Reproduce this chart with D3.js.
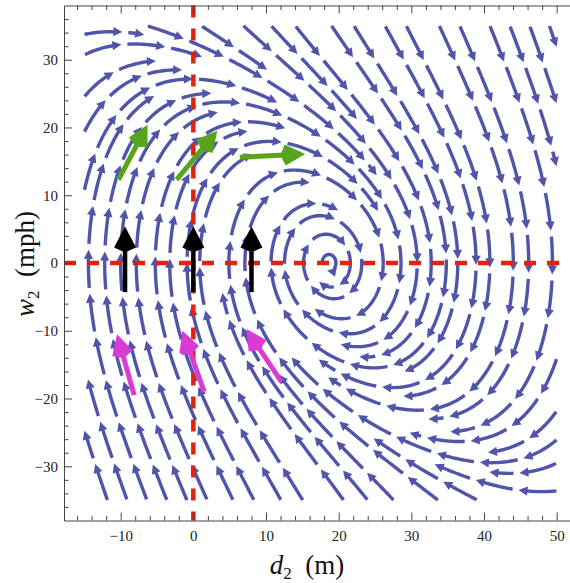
<!DOCTYPE html>
<html><head><meta charset="utf-8">
<script src="https://cdn.jsdelivr.net/npm/d3@7"></script>
<style>body{margin:0;background:#fff}</style>
</head><body>
<svg id="c" width="570" height="583"></svg>
<script>
// ---------- data ----------
const xDomain = [-17.8, 52.8];
const yDomain = [-38, 38];
const streamRangeD = [-15, 50];
const streamRangeW = [-35, 35];
const xTicks = [-10, 0, 10, 20, 30, 40, 50];
const yTicks = [-30, -20, -10, 0, 10, 20, 30];
const xMinor = d3.range(-16, 53, 2).filter(v => v % 10 !== 0);
const yMinor = d3.range(-36, 37, 2).filter(v => v % 10 !== 0);
// field: d2' = w2 ; w2' = springK*(equilibriumD - d2) - dragBeta*w2*|w2|
const equilibriumD = 18.7;
const springK = 1.75;
const dragBeta = 0.045;
// highlighted arrows [tail d, tail w, tip d, tip w]
const blackArrows = [[-9.4, -4.3, -9.4, 5.4], [0, -4.3, 0, 5.4], [8.0, -4.3, 8.0, 5.4]];
const greenArrows = [[-10.3, 12.3, -6.3, 20.4], [-2.3, 12.3, 3.3, 19.5], [6.4, 15.6, 15.4, 16.1]];
const magentaArrows = [[-8.15, -19.5, -10.5, -10.5], [1.5, -19.0, -1.5, -10.0], [12.1, -17.5, 7.3, -9.75]];
const refLinesD = [0];
const refLinesW = [0];

// ---------- setup ----------
const svg = d3.select("#c");
const x = d3.scaleLinear().domain(xDomain).range([64, 577]);
const y = d3.scaleLinear().domain(yDomain).range([520.5, 5.5]);
const sxs = x(1) - x(0), sys = y(0) - y(1);

function vel(px, py) {
  const d = x.invert(px), w = y.invert(py);
  const dd = w, dw = springK * (equilibriumD - d) - dragBeta * w * Math.abs(w);
  const vx = dd * sxs, vy = -dw * sys;
  const m = Math.hypot(vx, vy) || 1e-12;
  return [vx / m, vy / m, m];
}
const X0 = x(streamRangeD[0]), X1 = x(streamRangeD[1]);
const Y0 = y(streamRangeW[1]), Y1 = y(streamRangeW[0]);
const inside = (px, py) => px >= X0 && px <= X1 && py >= Y0 && py <= Y1;
const cxp = x(equilibriumD), cyp = y(0);

const dsep = 18.5, dtest = 9.3, h = 1;
const cell = dsep;
const grid = new Map();
const key = (i, j) => i * 100000 + j;
function addPt(g, p) {
  const k = key(Math.floor(p[0] / cell), Math.floor(p[1] / cell));
  let a = g.get(k); if (!a) { a = []; g.set(k, a); } a.push(p);
}
function near(g, px, py, r, skip) {
  const i = Math.floor(px / cell), j = Math.floor(py / cell), r2 = r * r;
  for (let di = -1; di <= 1; di++) for (let dj = -1; dj <= 1; dj++) {
    const a = g.get(key(i + di, j + dj)); if (!a) continue;
    for (const p of a) {
      const dx = p[0] - px, dy = p[1] - py;
      if (dx * dx + dy * dy < r2 && !(skip && skip(p))) return true;
    }
  }
  return false;
}
function trace(px, py, dir, local) {
  const pts = []; let s = 0;
  for (let n = 0; n < 4000; n++) {
    const v1 = vel(px, py);
    const v2 = vel(px + dir * v1[0] * h * 0.5, py + dir * v1[1] * h * 0.5);
    const nx = px + dir * v2[0] * h, ny = py + dir * v2[1] * h;
    if (!inside(nx, ny)) break;
    if (Math.hypot(nx - cxp, ny - cyp) < 4) break;
    if (near(grid, nx, ny, dtest)) break;
    s += dir * h;
    const ss = s;
    if (near(local, nx, ny, dtest * 0.95, p => Math.abs(ss - p[2]) < dsep * 2.5)) break;
    px = nx; py = ny;
    const p = [px, py, s]; pts.push(p); addPt(local, p);
  }
  return pts;
}
const lines = [], queue = [];
function makeLine(px, py) {
  if (!inside(px, py)) return;
  if (Math.hypot(px - cxp, py - cyp) < 6) return;
  if (near(grid, px, py, dsep * 0.98)) return;
  const local = new Map(); addPt(local, [px, py, 0]);
  const fwd = trace(px, py, 1, local), bwd = trace(px, py, -1, local);
  const pts = bwd.reverse().concat([[px, py, 0]], fwd);
  if (pts.length < 12) return;
  for (const p of pts) addPt(grid, p);
  lines.push(pts); queue.push(pts);
}
function processQueue() {
  while (queue.length) {
    const L = queue.shift();
    for (let i = 2; i < L.length - 2; i += 3) {
      const dx = L[i + 1][0] - L[i - 1][0], dy = L[i + 1][1] - L[i - 1][1];
      const m = Math.hypot(dx, dy) || 1;
      const nx = -dy / m, ny = dx / m;
      makeLine(L[i][0] + nx * dsep, L[i][1] + ny * dsep);
      makeLine(L[i][0] - nx * dsep, L[i][1] - ny * dsep);
    }
  }
}
makeLine(x(-10), y(0));
processQueue();
for (let gy = Y0 + 4; gy < Y1; gy += 6) for (let gx = X0 + 4; gx < X1; gx += 6) {
  makeLine(gx, gy); processQueue();
}

// ---------- draw streamlines as dashed arrows ----------
const streamColor = "#5055aa";
const gS = svg.append("g");
const dashLen = 38, gapLen = 6, headLen = 9, headHalf = 4.6;
const lineGen = d3.line();
for (const L of lines) {
  const cum = [0];
  for (let i = 1; i < L.length; i++) cum.push(cum[i - 1] + Math.hypot(L[i][0] - L[i - 1][0], L[i][1] - L[i - 1][1]));
  const total = cum[cum.length - 1];
  const at = s => {
    let i = d3.bisectRight(cum, s) - 1; i = Math.max(0, Math.min(i, L.length - 2));
    const t = (s - cum[i]) / ((cum[i + 1] - cum[i]) || 1);
    return [L[i][0] + t * (L[i + 1][0] - L[i][0]), L[i][1] + t * (L[i + 1][1] - L[i][1])];
  };
  for (let s = 0; s < total; s += dashLen + gapLen) {
    const a = s, b = Math.min(s + dashLen, total);
    if (b - a < 11) continue;
    const tip = at(b), back = at(b - 3);
    let tx = tip[0] - back[0], ty = tip[1] - back[1];
    const tm = Math.hypot(tx, ty) || 1; tx /= tm; ty /= tm;
    const pts = [];
    const end = b - headLen * 0.8;
    for (let u = a; u < end; u += 2) pts.push(at(u));
    pts.push(at(end));
    gS.append("path").attr("d", lineGen(pts)).attr("fill", "none")
      .attr("stroke", streamColor).attr("stroke-width", 3.4);
    const bx = tip[0] - tx * headLen, by = tip[1] - ty * headLen;
    gS.append("path").attr("d", `M${tip[0]},${tip[1]}L${bx - ty * headHalf},${by + tx * headHalf}L${bx + ty * headHalf},${by - tx * headHalf}Z`)
      .attr("fill", streamColor);
  }
}

// ---------- reference lines ----------
const red = "#e0230f";
svg.append("g").selectAll("line.v").data(refLinesD).join("line")
  .attr("x1", d => x(d)).attr("x2", d => x(d)).attr("y1", y.range()[1]).attr("y2", y.range()[0])
  .attr("stroke", red).attr("stroke-width", 4.5).attr("stroke-dasharray", "12,11");
svg.append("g").selectAll("line.h").data(refLinesW).join("line")
  .attr("x1", x.range()[0]).attr("x2", x.range()[1]).attr("y1", d => y(d)).attr("y2", d => y(d))
  .attr("stroke", red).attr("stroke-width", 4.5).attr("stroke-dasharray", "12,11");

// ---------- highlight arrows ----------
function bigArrows(data, color, width, hl, hw) {
  const g = svg.append("g");
  for (const a of data) {
    const x1 = x(a[0]), y1 = y(a[1]), x2 = x(a[2]), y2 = y(a[3]);
    let tx = x2 - x1, ty = y2 - y1; const m = Math.hypot(tx, ty); tx /= m; ty /= m;
    const bx = x2 - tx * hl, by = y2 - ty * hl;
    g.append("line").attr("x1", x1).attr("y1", y1).attr("x2", x2 - tx * hl * 0.6).attr("y2", y2 - ty * hl * 0.6)
      .attr("stroke", color).attr("stroke-width", width);
    g.append("path").attr("d", `M${x2},${y2}L${bx - ty * hw + tx * 5},${by + tx * hw + ty * 5}L${bx},${by}L${bx + ty * hw + tx * 5},${by - tx * hw + ty * 5}Z`)
      .attr("fill", color);
  }
}
bigArrows(blackArrows, "#000", 4.5, 26, 11);
bigArrows(greenArrows, "#58a51c", 5, 25, 10.5);
bigArrows(magentaArrows, "#d93bd3", 5, 25, 10.5);

// ---------- axes ----------
const fmt = d => d < 0 ? "\u2212" + Math.abs(d) : String(d);
const axisColor = "#444";
function styleAxis(g) {
  g.selectAll("path.domain").attr("stroke", axisColor);
  g.selectAll("line").attr("stroke", axisColor);
  g.selectAll("text").attr("font-family", "'Liberation Serif', serif").attr("font-size", 15).attr("fill", "#222");
}
const yb = y.range()[0], yt = y.range()[1], xl = x.range()[0];
svg.append("g").attr("transform", `translate(0,${yb})`)
  .call(d3.axisBottom(x).tickValues(xTicks).tickSize(-8).tickSizeOuter(0).tickPadding(0).tickFormat(fmt))
  .call(styleAxis).call(g => g.selectAll("text").attr("dy", 0).attr("y", 20.5));
svg.append("g").attr("transform", `translate(0,${yb})`)
  .call(d3.axisBottom(x).tickValues(xMinor).tickSize(-4.5).tickFormat(""))
  .call(styleAxis).call(g => g.select("path.domain").remove());
svg.append("g").attr("transform", `translate(0,${yt})`)
  .call(d3.axisTop(x).tickValues(xTicks).tickSize(-8).tickSizeOuter(0).tickFormat(""))
  .call(styleAxis);
svg.append("g").attr("transform", `translate(0,${yt})`)
  .call(d3.axisTop(x).tickValues(xMinor).tickSize(-4.5).tickFormat(""))
  .call(styleAxis).call(g => g.select("path.domain").remove());
svg.append("g").attr("transform", `translate(${xl},0)`)
  .call(d3.axisLeft(y).tickValues(yTicks).tickSize(-8).tickSizeOuter(0).tickPadding(6).tickFormat(fmt))
  .call(styleAxis);
svg.append("g").attr("transform", `translate(${xl},0)`)
  .call(d3.axisLeft(y).tickValues(yMinor).tickSize(-4.5).tickFormat(""))
  .call(styleAxis).call(g => g.select("path.domain").remove());

// ---------- axis titles ----------
const xt = svg.append("text").attr("x", 307).attr("y", 574).attr("text-anchor", "middle")
  .attr("font-family", "'Liberation Serif', serif").attr("font-size", 27).attr("fill", "#111");
xt.append("tspan").attr("font-style", "italic").text("d");
xt.append("tspan").attr("font-size", 17).attr("dy", 5).text("2");
xt.append("tspan").attr("dy", -5).text("\u00a0\u00a0(m)");

const yt2 = svg.append("text").attr("transform", "translate(34,264) rotate(-90)").attr("text-anchor", "middle")
  .attr("font-family", "'Liberation Serif', serif").attr("font-size", 27).attr("fill", "#111");
yt2.append("tspan").attr("font-style", "italic").text("w");
yt2.append("tspan").attr("font-size", 17).attr("dy", 5).text("2");
yt2.append("tspan").attr("dy", -5).text("\u00a0\u00a0(mph)");
</script>
</body></html>
